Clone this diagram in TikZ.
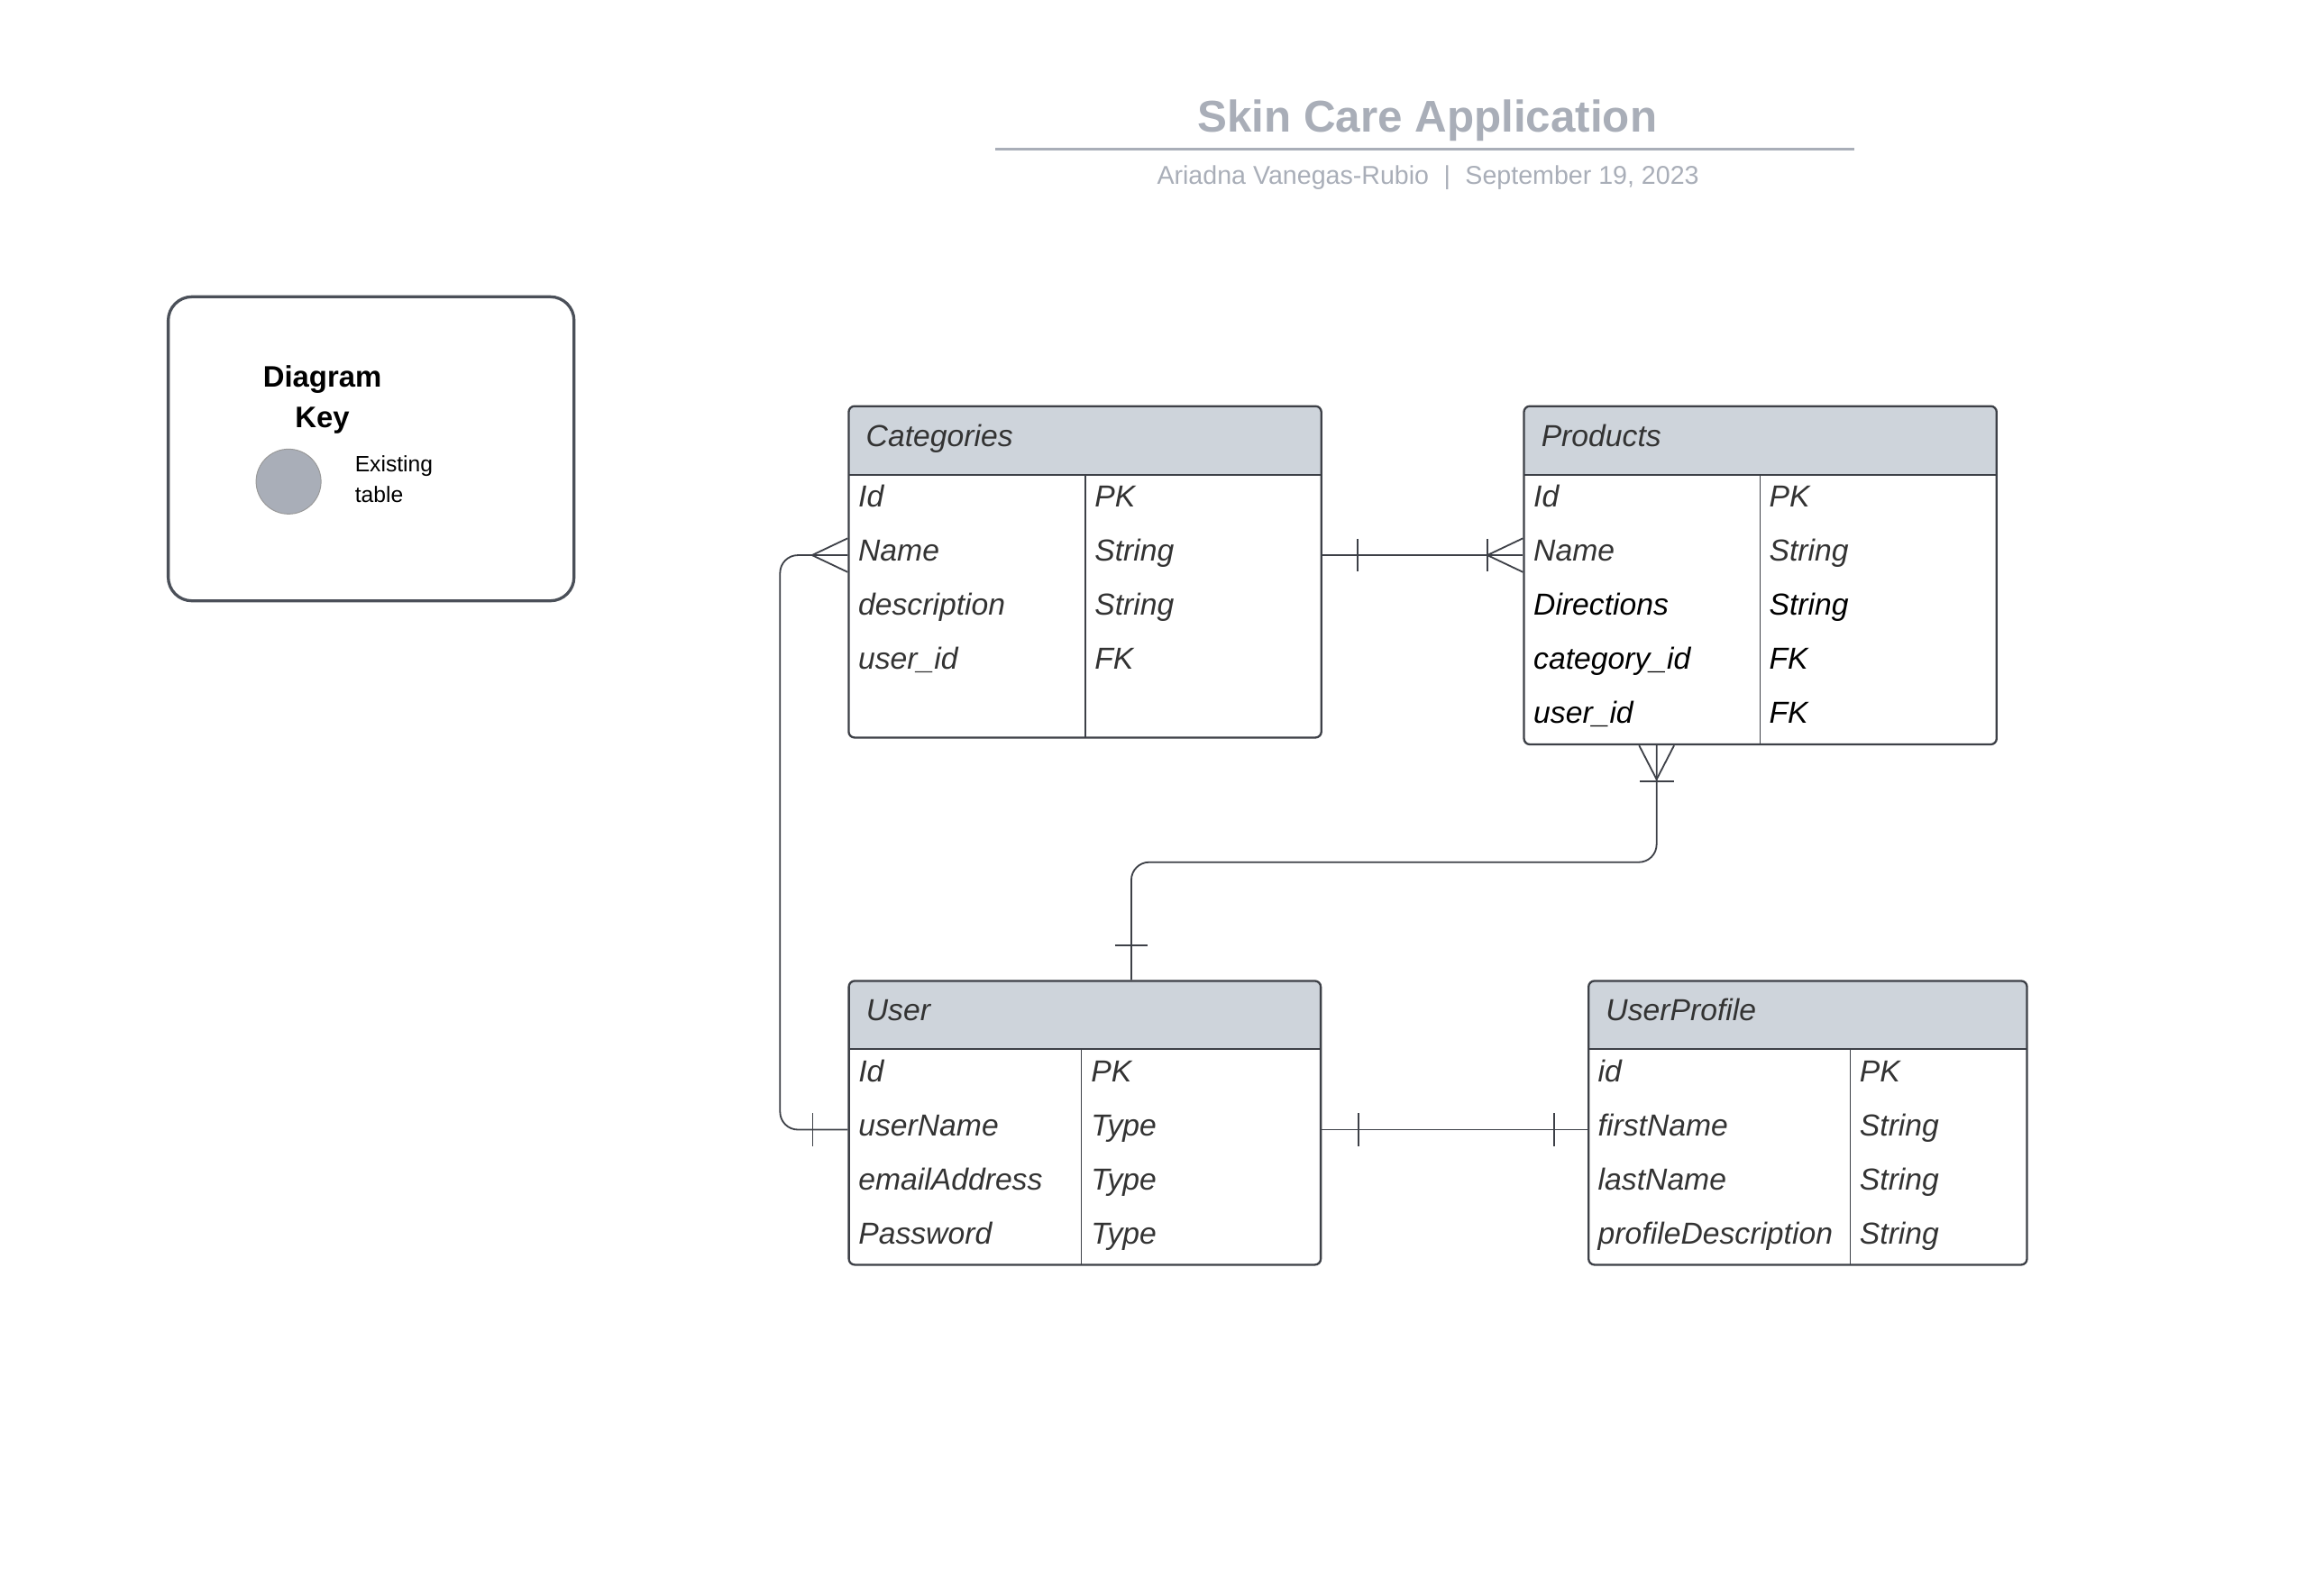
\documentclass[tikz,border=0pt]{standalone}
\usepackage{fontspec}
\setmainfont{Liberation Sans}
\definecolor{titlegray}{HTML}{A9AEB8}
\definecolor{linegray}{HTML}{3D4047}
\definecolor{headfill}{HTML}{CED4DB}
\definecolor{textgray}{HTML}{333333}
\definecolor{keyborder}{HTML}{4B5059}

\tikzstyle{tablebox}=[shape=rectangle,draw=linegray,line width=1.4pt,rounded corners=4pt,inner sep=0pt]
\tikzstyle{tablehead}=[shape=rectangle,fill=headfill,rounded corners=4pt,inner sep=0pt,anchor=north west]

\begin{document}
\begin{tikzpicture}[x=1pt,y=-1pt]
\tikzstyle{field}=[anchor=base west,inner sep=0pt,text=textgray,font=\fontsize{20.5}{24}\selectfont\itshape]
\tikzstyle{fieldb}=[field,text=black]
\tikzstyle{rel}=[draw=linegray,line width=1.1pt]
\tikzstyle{divider}=[draw=linegray,line width=0.7pt]
\useasboundingbox (0,0) rectangle (1568,1071);
% title
\node[anchor=base,inner sep=0pt,text=titlegray,font=\fontsize{30}{36}\selectfont\bfseries] (title) at (963,89.2) {Skin Care Application};
\draw[titlegray,line width=1.6pt] (671.5,100.6) -- (1251,100.6);
\node[anchor=base,inner sep=0pt,text=titlegray,font=\fontsize{17.4}{20}\selectfont] (subtitle) at (963.5,124.1) {Ariadna Vanegas-Rubio\hspace{10pt}|\hspace{10pt}September 19, 2023};
% key
\node[shape=rectangle,draw=keyborder,line width=2pt,rounded corners=16pt,minimum width=273.8,minimum height=205.2] (key) at (250.4,302.9) {};
\node[anchor=base,inner sep=0pt,align=center,font=\fontsize{20}{27}\selectfont\bfseries] (keyTitle) at (217.5,288.3) {Diagram\\Key};
\node[shape=circle,fill=titlegray,draw=gray!80,line width=0.6pt,minimum size=43.8] (keyDot) at (194.7,325) {};
\node[anchor=base west,inner sep=0pt,align=left,font=\fontsize{15}{20.7}\selectfont] (keyText) at (239.3,339) {Existing\\table};
% categories
\node[tablehead,minimum width=318.9,minimum height=45.9] (catHead) at (572.6,274.1) {};
\fill[headfill] ([yshift=8pt]catHead.south west) rectangle (catHead.south east);
\draw[linegray,line width=1.4pt] (catHead.south west) -- (catHead.south east);
\draw[divider] (732.3,320) -- (732.3,497.8);
\node[tablebox,minimum width=318.9,minimum height=223.7] (cat) at (732.05,385.95) {};
\node[field] (catTitle) at (584.1,301.1) {Categories};
\node[field] (catId) at (578.9,342.3) {Id};
\node[field] (catIdT) at (738.4,342.3) {PK};
\node[field] (catNameF) at (578.9,378.8) {Name};
\node[field] (catNameT) at (738.4,378.8) {String};
\node[field] (catDesc) at (578.9,415.3) {description};
\node[field] (catDescT) at (738.4,415.3) {String};
\node[field] (catUser) at (578.9,451.8) {user\_id};
\node[field] (catUserT) at (738.4,451.8) {FK};
% products
\node[tablehead,minimum width=318.9,minimum height=45.9] (prodHead) at (1028.2,274.1) {};
\fill[headfill] ([yshift=8pt]prodHead.south west) rectangle (prodHead.south east);
\draw[linegray,line width=1.4pt] (prodHead.south west) -- (prodHead.south east);
\draw[divider] (1187.4,320) -- (1187.4,502.4);
\node[tablebox,minimum width=318.9,minimum height=228.3] (prod) at (1187.65,388.25) {};
\node[field] (prodTitle) at (1039.7,301.1) {Products};
\node[field] (prodId) at (1034.5,342.3) {Id};
\node[field] (prodIdT) at (1193.5,342.3) {PK};
\node[field] (prodName) at (1034.5,378.8) {Name};
\node[field] (prodNameT) at (1193.5,378.8) {String};
\node[fieldb] (prodDir) at (1034.5,415.3) {Directions};
\node[fieldb] (prodDirT) at (1193.5,415.3) {String};
\node[fieldb] (prodCat) at (1034.5,451.8) {category\_id};
\node[fieldb] (prodCatT) at (1193.5,451.8) {FK};
\node[fieldb] (prodUser) at (1034.5,488.3) {user\_id};
\node[fieldb] (prodUserT) at (1193.5,488.3) {FK};
% user
\node[tablehead,minimum width=318.4,minimum height=45.6] (userHead) at (572.7,662) {};
\fill[headfill] ([yshift=8pt]userHead.south west) rectangle (userHead.south east);
\draw[linegray,line width=1.4pt] (userHead.south west) -- (userHead.south east);
\draw[divider] (729.8,707.6) -- (729.8,853.6);
\node[tablebox,minimum width=318.4,minimum height=191.6] (user) at (731.9,757.8) {};
\node[field] (userTitle) at (584.2,688.7) {User};
\node[field] (userId) at (579,729.9) {Id};
\node[field] (userIdT) at (736,729.9) {PK};
\node[field] (userNameF) at (579,766.4) {userName};
\node[field] (userNameT) at (736,766.4) {Type};
\node[field] (userMail) at (579,802.9) {emailAddress};
\node[field] (userMailT) at (736,802.9) {Type};
\node[field] (userPass) at (579,839.4) {Password};
\node[field] (userPassT) at (736,839.4) {Type};
% user profile
\node[tablehead,minimum width=295.8,minimum height=45.6] (upHead) at (1071.8,662) {};
\fill[headfill] ([yshift=8pt]upHead.south west) rectangle (upHead.south east);
\draw[linegray,line width=1.4pt] (upHead.south west) -- (upHead.south east);
\draw[divider] (1248.3,707.6) -- (1248.3,853.6);
\node[tablebox,minimum width=295.8,minimum height=191.6] (up) at (1219.7,757.8) {};
\node[field] (upTitle) at (1083.3,688.7) {UserProfile};
\node[field] (upId) at (1078,729.9) {id};
\node[field] (upIdT) at (1254.5,729.9) {PK};
\node[field] (upFirst) at (1078,766.4) {firstName};
\node[field] (upFirstT) at (1254.5,766.4) {String};
\node[field] (upLast) at (1078,802.9) {lastName};
\node[field] (upLastT) at (1254.5,802.9) {String};
\node[field] (upDesc) at (1078,839.4) {profileDescription};
\node[field] (upDescT) at (1254.5,839.4) {String};
% relations
\coordinate (catName) at (0,374.7);
\coordinate (userName) at (0,762.4);
\coordinate (leftBus) at (526.3,0);
\coordinate (midBus) at (0,581.9);
\coordinate (prodFoot) at (1117.7,0);
\coordinate (userTop) at (763.3,0);
% categories -- products
\draw[rel] (cat.east |- catName) -- (prod.west |- catName);
\draw[rel] (cat.east |- catName) ++(24,-11) -- ++(0,22);
\draw[rel] (prod.west |- catName) ++(-24,-11) -- ++(0,22);
\draw[rel] (prod.west |- catName) ++(0,-11.4) -- ++(-24,11.4) -- ++(24,11.4);
% categories -- user
\draw[rel,rounded corners=12pt] (cat.west |- catName) -| (leftBus |- userName) -- (user.west |- userName);
\draw[rel] (cat.west |- catName) ++(0,-11.4) -- ++(-24,11.4) -- ++(24,11.4);
\draw[rel] (user.west |- userName) ++(-23.7,-11) -- ++(0,22);
% products -- user
\draw[rel,rounded corners=12pt] (prodFoot |- prod.south) |- (userTop |- midBus) -- (userTop |- user.north);
\draw[rel] (prodFoot |- prod.south) ++(-11.8,0) -- ++(11.8,22.9) -- ++(11.8,-22.9);
\draw[rel] (prodFoot |- prod.south) ++(-11.5,24) -- ++(23,0);
\draw[rel] (userTop |- user.north) ++(-11,-23.5) -- ++(22,0);
% user -- user profile
\draw[rel] (user.east |- userName) -- (up.west |- userName);
\draw[rel] (user.east |- userName) ++(24.6,-11) -- ++(0,22);
\draw[rel] (up.west |- userName) ++(-22.5,-11) -- ++(0,22);
\end{tikzpicture}
\end{document}
